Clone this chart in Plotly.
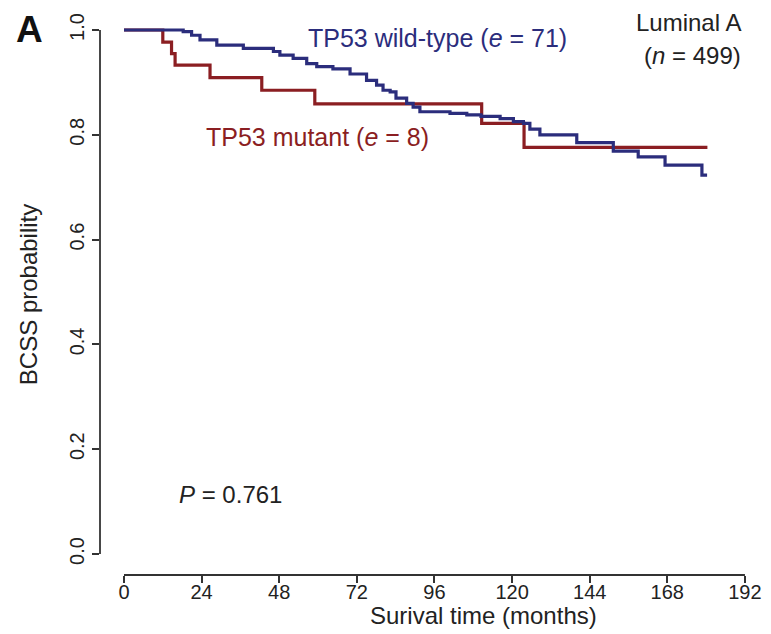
import plotly.graph_objects as go

# ---- data ----
wt_time = [0, 18.3, 20.9, 23.5, 28.7, 36.9, 46.2, 48.2, 52.3, 56.5, 59.6, 64.6, 69.9,
           75.0, 78.1, 80.1, 82.3, 84.1, 87.4, 89.4, 91.5, 100.8, 106.0, 110.4, 116.3,
           120.4, 123.5, 125.5, 128.6, 140.0, 151.3, 159.0, 167.3, 178.7, 180.3]
wt_surv = [1.0, 0.997, 0.990, 0.981, 0.971, 0.965, 0.959, 0.952, 0.946, 0.936, 0.930,
           0.926, 0.916, 0.904, 0.895, 0.885, 0.882, 0.870, 0.860, 0.853, 0.844, 0.841,
           0.838, 0.835, 0.831, 0.825, 0.822, 0.811, 0.800, 0.785, 0.769, 0.758, 0.742,
           0.723, 0.723]

mut_time = [0, 12.0, 14.7, 15.8, 26.6, 42.6, 59.0, 110.6, 123.7, 180.4]
mut_surv = [1.0, 0.977, 0.955, 0.933, 0.909, 0.885, 0.859, 0.822, 0.776, 0.776]

x_ticks = [0, 24, 48, 72, 96, 120, 144, 168, 192]
y_ticks = [0.0, 0.2, 0.4, 0.6, 0.8, 1.0]

NAVY = "#2B2D7C"
RED = "#8B1E22"
FONT = "Liberation Sans, Arial, Helvetica, sans-serif"
AX = "#333333"

fig = go.Figure()
fig.add_trace(go.Scatter(x=mut_time, y=mut_surv, mode="lines", line_shape="hv",
                         line=dict(color=RED, width=3.2), showlegend=False))
fig.add_trace(go.Scatter(x=wt_time, y=wt_surv, mode="lines", line_shape="hv",
                         line=dict(color=NAVY, width=3.2), showlegend=False))

# axis lines spanning only the tick range (R style)
fig.add_shape(type="line", xref="x", yref="paper", x0=x_ticks[0], x1=x_ticks[-1], y0=0, y1=0,
              line=dict(color=AX, width=1.8))
fig.add_shape(type="line", xref="paper", yref="y", x0=0, x1=0, y0=y_ticks[0], y1=y_ticks[-1],
              line=dict(color=AX, width=1.8))

fig.update_xaxes(range=[-7.42, 196.66], tickvals=x_ticks, ticktext=[str(v) for v in x_ticks],
                 ticks="outside", ticklen=7, tickwidth=1.8, tickcolor=AX, automargin=False,
                 showline=False, showgrid=False, zeroline=False, ticklabelstandoff=-8,
                 tickfont=dict(family=FONT, size=20, color="#222"))
fig.update_yaxes(range=[-0.0401, 1.0191], tickvals=y_ticks, ticktext=[f"{v:.1f}" for v in y_ticks],
                 ticks="outside", ticklen=7, tickwidth=1.8, tickcolor=AX, tickangle=-90,
                 automargin=False, showline=False, showgrid=False, zeroline=False,
                 tickfont=dict(family=FONT, size=20, color="#222"))

ann = [
    dict(text="TP53 wild-type (<i>e</i> = 71)", x=56.3, y=0.985, xanchor="left", yanchor="middle",
         font=dict(color=NAVY, size=25, family=FONT)),
    dict(text="TP53 mutant (<i>e</i> = 8)", x=24.6, y=0.796, xanchor="left", yanchor="middle",
         font=dict(color=RED, size=25, family=FONT)),
    dict(text="Luminal A", x=191.4, y=1.015, xanchor="right", yanchor="middle",
         font=dict(color="#222", size=24, family=FONT)),
    dict(text="(<i>n</i> = 499)", x=191.4, y=0.952, xanchor="right", yanchor="middle",
         font=dict(color="#222", size=24, family=FONT)),
    dict(text="<i>P</i> = 0.761", x=16.4, y=0.113, xanchor="left", yanchor="middle",
         font=dict(color="#222", size=24, family=FONT)),
]
for a in ann:
    fig.add_annotation(xref="x", yref="y", showarrow=False, **a)

# axis titles
fig.add_annotation(text="Surival time (months)", xref="paper", yref="paper",
                   x=(483 - 100) / 660, y=0, yshift=-40, xanchor="center", yanchor="middle",
                   showarrow=False, font=dict(color="#222", size=24, family=FONT))
fig.add_annotation(text="BCSS probability", xref="paper", yref="y", x=0, y=0.494,
                   xshift=-72, xanchor="center", yanchor="middle", textangle=-90,
                   showarrow=False, font=dict(color="#222", size=24, family=FONT))
# panel letter
fig.add_annotation(text="<b>A</b>", xref="paper", yref="paper", x=0, y=1,
                   xshift=-71, yshift=-9, xanchor="center", yanchor="middle",
                   showarrow=False, font=dict(color="#111", size=37, family=FONT))

fig.update_layout(width=763, height=626, margin=dict(l=92, r=11, t=12, b=59, autoexpand=False),
                  paper_bgcolor="white", plot_bgcolor="white")

fig.write_html("out.html")
